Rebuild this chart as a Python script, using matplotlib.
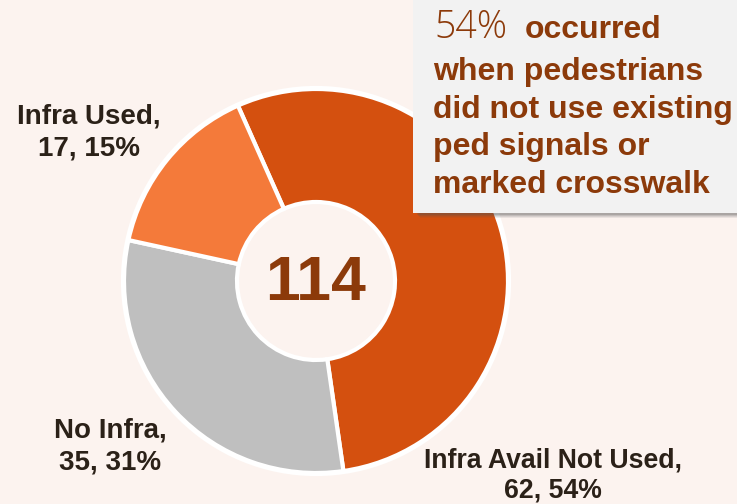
import matplotlib
matplotlib.use("Agg")
import matplotlib.pyplot as plt
from matplotlib.patches import Rectangle, Circle

# Data
categories = ["Infra Avail Not Used", "No Infra", "Infra Used"]
counts = [62, 35, 17]
colors = ["#D4500F", "#BFBFBF", "#F47A3A"]
total = sum(counts)
callout_pct = "54%"
callout_rest = ["occurred", "when pedestrians", "did not use existing", "ped signals or", "marked crosswalk"]

BG = "#FCF3EF"
BROWN = "#8C3A0A"
DARK = "#2B2118"

W, H = 737, 504
fig = plt.figure(figsize=(W / 100, H / 100), dpi=100, facecolor=BG)
ax = fig.add_axes([0, 0, 1, 1])

cx, cy, R = 316, H - 281, 192
wedges, _ = ax.pie(counts, colors=colors, startangle=114, counterclock=False,
                   center=(cx, cy), radius=R, frame=True,
                   wedgeprops=dict(width=R - 79, edgecolor="white", linewidth=3))
ax.set_xlim(0, W)
ax.set_ylim(0, H)
ax.set_aspect("equal")
ax.axis("off")

# outer white ring
ax.add_patch(Circle((cx, cy), R + 1, fill=False, edgecolor="white", linewidth=3, zorder=3))

ax.text(cx, cy - 2, str(total), ha="center", va="center", fontsize=45, fontweight="bold",
        color=BROWN, family="Liberation Sans", zorder=5)

# labels: (center x, baseline of first line, baseline of second line, fontsize)
pcts = [round(c / total * 100) for c in counts]
label_pos = {
    "Infra Used": (89, 123, 155, 20),
    "No Infra": (110, 437, 469, 20),
    "Infra Avail Not Used": (553, 468, 497, 19.2),
}
for cat, c, p in zip(categories, counts, pcts):
    x, y1, y2, fs = label_pos[cat]
    ax.text(x, H - y1, f"{cat},", ha="center", va="baseline", fontsize=fs,
            fontweight="bold", color=DARK, family="Liberation Sans", zorder=5)
    ax.text(x, H - y2, f"{c}, {p}%", ha="center", va="baseline", fontsize=fs,
            fontweight="bold", color=DARK, family="Liberation Sans", zorder=5)

# callout box with shadow
bx0, by0, bx1, by1 = 413, 0, 745, 213
for i, a in enumerate([0.10, 0.12, 0.16, 0.22]):
    off = 5 - i
    ax.add_patch(Rectangle((bx0 + off + 2, H - by1 - off), bx1 - bx0, by1 - by0,
                           facecolor="#555555", alpha=a, edgecolor="none", zorder=6))
ax.add_patch(Rectangle((bx0, H - by1), bx1 - bx0, by1 - by0, facecolor="#F2F2F2",
                       edgecolor="none", zorder=7))

line_y = [38, 80, 118, 155, 193]
ax.text(434, H - line_y[0], callout_pct, ha="left", va="baseline", fontsize=27,
        fontweight="light", color=BROWN, family="Open Sans", zorder=8)
ax.text(525, H - line_y[0], callout_rest[0], ha="left", va="baseline", fontsize=23,
        fontweight="bold", color=BROWN, family="Liberation Sans", zorder=8)
for s, y in zip(callout_rest[1:], line_y[1:]):
    ax.text(433, H - y, s, ha="left", va="baseline", fontsize=23, fontweight="bold",
            color=BROWN, family="Liberation Sans", zorder=8)

fig.savefig("out.png", dpi=100, facecolor=BG)
